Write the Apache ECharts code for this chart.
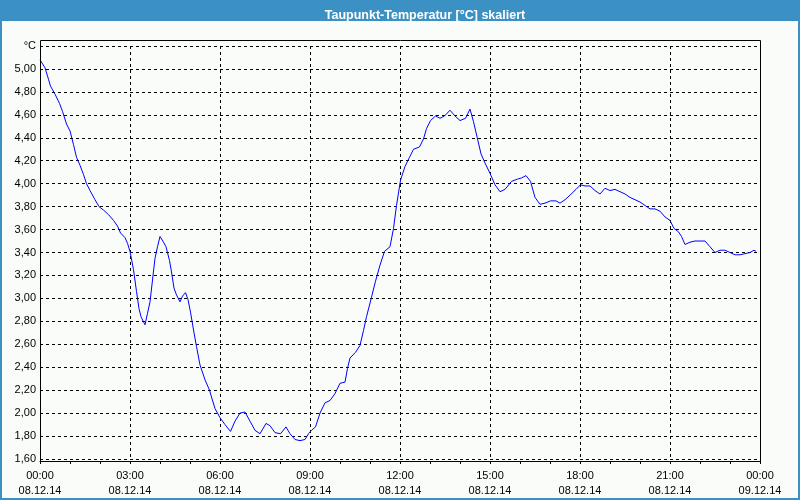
<!DOCTYPE html>
<html>
<head>
<meta charset="utf-8">
<script src="https://cdn.jsdelivr.net/npm/echarts@6/dist/echarts.min.js"></script>
<style>html,body{margin:0;padding:0;background:#fafcfa;}#c{width:800px;height:500px;}</style>
</head>
<body>
<div id="c"></div>
<script>
// time in minutes since 08.12.14 00:00
var minutes = [0,10,17,21,30,39,45,53,60,67,73,80,87,93,100,110,118,127,137,147,155,161,170,175,180,187,193,198,202,210,215,220,225,230,235,240,247,252,259,263,268,273,280,285,291,296,301,308,313,320,330,339,343,350,360,370,381,390,400,410,420,430,440,452,460,470,481,492,500,510,520,530,537,543,551,560,570,580,590,600,610,615,620,631,640,647,653,663,671,680,689,700,707,713,721,730,739,747,759,767,773,781,791,800,809,820,830,840,851,860,867,875,882,890,900,910,920,930,943,955,963,972,981,990,1000,1010,1021,1032,1040,1050,1060,1072,1081,1090,1100,1110,1120,1130,1140,1150,1160,1170,1180,1190,1200,1210,1220,1230,1240,1250,1260,1268,1277,1283,1290,1300,1310,1320,1330,1340,1350,1360,1370,1380,1390,1400,1410,1420,1428,1432];
var dewpoint = [5.08,5.01,4.91,4.85,4.78,4.70,4.63,4.52,4.46,4.34,4.23,4.16,4.08,4.00,3.94,3.86,3.80,3.77,3.73,3.68,3.63,3.57,3.53,3.48,3.41,3.25,3.06,2.91,2.84,2.77,2.87,2.97,3.16,3.35,3.45,3.54,3.49,3.45,3.33,3.23,3.09,3.03,2.97,3.02,3.05,2.99,2.88,2.70,2.58,2.42,2.29,2.20,2.14,2.04,1.96,1.90,1.84,1.93,2.00,2.01,1.93,1.85,1.82,1.91,1.89,1.83,1.82,1.88,1.82,1.77,1.76,1.77,1.82,1.85,1.88,2.00,2.09,2.11,2.17,2.26,2.27,2.39,2.48,2.53,2.59,2.72,2.84,3.01,3.15,3.29,3.41,3.45,3.61,3.81,4.03,4.15,4.23,4.30,4.32,4.39,4.48,4.55,4.59,4.57,4.59,4.64,4.59,4.55,4.57,4.65,4.54,4.39,4.26,4.18,4.09,3.99,3.93,3.95,4.02,4.04,4.05,4.07,4.02,3.88,3.82,3.83,3.85,3.85,3.83,3.86,3.90,3.95,3.99,3.98,3.98,3.94,3.91,3.96,3.94,3.95,3.93,3.91,3.88,3.86,3.84,3.81,3.78,3.78,3.76,3.71,3.68,3.61,3.58,3.54,3.47,3.49,3.50,3.50,3.50,3.45,3.40,3.42,3.42,3.40,3.38,3.38,3.39,3.40,3.42,3.41];
var xHourLabels = ['00:00','03:00','06:00','09:00','12:00','15:00','18:00','21:00','00:00'];
var xDateLabels = ['08.12.14','08.12.14','08.12.14','08.12.14','08.12.14','08.12.14','08.12.14','08.12.14','09.12.14'];
var yLabels = ['1,60','1,80','2,00','2,20','2,40','2,60','2,80','3,00','3,20','3,40','3,60','3,80','4,00','4,20','4,40','4,60','4,80','5,00','°C'];
var titleText = 'Taupunkt-Temperatur [°C] skaliert';

var chart = echarts.init(document.getElementById('c'), null, {renderer: 'canvas'});
var data = minutes.map(function (m, i) { return [m, dewpoint[i]]; });
var FONT = 'Liberation Sans';
chart.setOption({
  backgroundColor: '#fafcfa',
  animation: false,
  title: {
    text: titleText, left: 420, top: 4, textAlign: 'center',
    textStyle: {color: '#ffffff', fontWeight: 'bold', fontSize: 12.5, fontFamily: FONT}
  },
  graphic: [
    {type: 'rect', z: -10, shape: {x: 0, y: 0, width: 800, height: 21}, style: {fill: '#3c91c4'}},
    {type: 'rect', z: 100, shape: {x: 1, y: 1, width: 798, height: 498}, style: {fill: 'none', stroke: '#3c91c4', lineWidth: 2}},
    {type: 'rect', z: 100, shape: {x: 40.5, y: 40.5, width: 720, height: 421}, style: {fill: 'none', stroke: '#000', lineWidth: 1}}
  ],
  grid: {left: 40, right: 40, top: 46, bottom: 41, containLabel: false},
  xAxis: {
    type: 'value', min: 0, max: 1440, interval: 180, offset: 2,
    axisLine: {show: true, lineStyle: {color: '#000', width: 1}},
    axisTick: {show: true, length: 3, lineStyle: {color: '#000'}},
    minorTick: {show: true, splitNumber: 3, length: 3, lineStyle: {color: '#000'}},
    splitLine: {show: true, lineStyle: {color: '#000', type: [3, 3], width: 1}},
    axisLabel: {
      margin: 7, color: '#000', fontSize: 11, fontFamily: FONT, lineHeight: 15,
      formatter: function (v) { var i = Math.round(v / 180); return xHourLabels[i] + '\n' + xDateLabels[i]; }
    }
  },
  yAxis: {
    type: 'value', min: 1.6, max: 5.2, interval: 0.2,
    axisLine: {show: false},
    axisTick: {show: false},
    splitLine: {show: true, lineStyle: {color: '#000', type: [3, 3], width: 1}},
    axisLabel: {
      margin: 4, color: '#000', fontSize: 11, fontFamily: FONT,
      formatter: function (v) { var i = Math.round((v - 1.6) / 0.2); return yLabels[i]; }
    }
  },
  series: [{
    type: 'line', data: data, showSymbol: false, symbol: 'none', smooth: false,
    lineStyle: {color: '#0000ff', width: 1}, z: 5
  }]
});
</script>
</body>
</html>
